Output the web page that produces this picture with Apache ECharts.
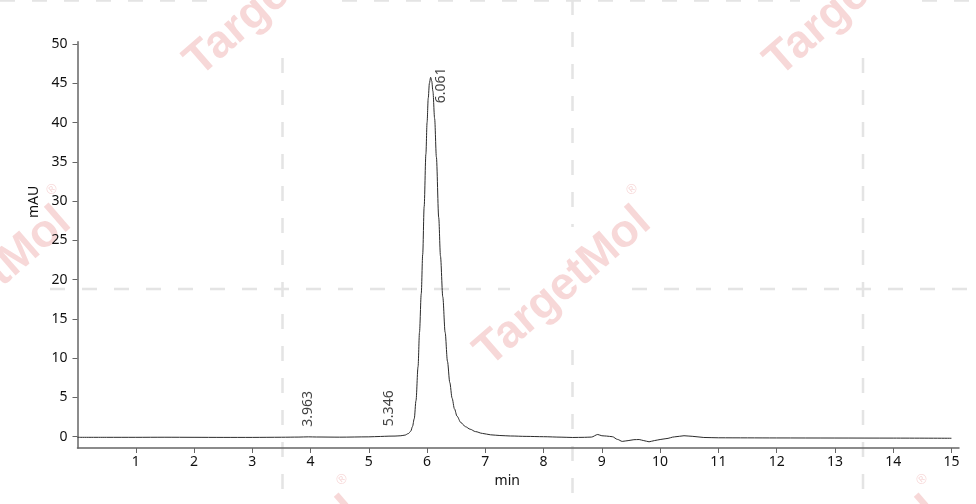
<!DOCTYPE html>
<html><head><meta charset="utf-8">
<script src="https://cdn.jsdelivr.net/npm/echarts@6/dist/echarts.min.js"></script>
<style>html,body{margin:0;padding:0;background:#fff}#c{width:976px;height:504px}</style>
</head><body><div id="c"></div>
<script>
// retention time (min)
const times = [0, 0.5, 1, 1.5, 2, 2.5, 3, 3.5, 3.8, 3.963, 4.1, 4.5, 5.0, 5.2, 5.346, 5.45, 5.55, 5.62, 5.68, 5.72,
  5.75, 5.78, 5.81, 5.845, 5.87, 5.9, 5.925, 5.95, 5.98, 6.0, 6.02, 6.04, 6.061, 6.08, 6.1, 6.13, 6.16, 6.2, 6.23,
  6.27, 6.31, 6.35, 6.39, 6.43, 6.47, 6.515, 6.58, 6.66, 6.74, 6.83, 6.95, 7.09, 7.25, 7.43, 7.7, 8.0, 8.3, 8.5,
  8.7, 8.82, 8.93, 9.0, 9.08, 9.18, 9.27, 9.35, 9.45, 9.55, 9.64, 9.72, 9.81, 9.9, 10.0, 10.1, 10.25, 10.41, 10.55,
  10.75, 11.0, 11.5, 12, 13, 14, 15];
// absorbance (mAU)
const mau = [-0.08, -0.08, -0.08, -0.07, -0.08, -0.09, -0.09, -0.07, -0.05, -0.02, -0.04, -0.06, -0.02, 0.03, 0.07,
  0.08, 0.12, 0.2, 0.4, 0.7, 1.3, 2.3, 4.6, 8.9, 13.3, 18.2, 23.2, 29.3, 36.0, 40.0, 43.1, 45.0, 45.76, 45.3, 44.0,
  40.5, 35.6, 27.9, 23.0, 17.8, 13.3, 9.6, 6.9, 4.9, 3.55, 2.6, 1.8, 1.27, 0.95, 0.65, 0.42, 0.24, 0.15, 0.09, 0.04,
  0.0, -0.06, -0.1, -0.08, -0.05, 0.28, 0.12, 0.08, 0.0, -0.35, -0.6, -0.5, -0.38, -0.36, -0.5, -0.65, -0.5, -0.36,
  -0.25, -0.02, 0.12, 0.05, -0.1, -0.14, -0.15, -0.16, -0.17, -0.18, -0.2];
// labelled peaks
const peakTimes = [3.963, 5.346, 6.061];
const peakHeights = [-0.02, 0.07, 45.76];
// axis ticks
const xTicks = [1, 2, 3, 4, 5, 6, 7, 8, 9, 10, 11, 12, 13, 14, 15];
const yTicks = [0, 5, 10, 15, 20, 25, 30, 35, 40, 45, 50];

const labelOffsets = [[10, 0], [10, 0], [-26, 10]];
const FONT = 'Noto Sans';

const lineData = times.map((t, i) => [t, mau[i]]);
const peakData = peakTimes.map((t, i) => ({
  value: [t, peakHeights[i]],
  label: { offset: labelOffsets[i] }
}));

// watermark
const wm = [];
const wmCenters = [[273, -3], [853, -3], [-17, 287], [563, 287], [1143, 287], [273, 577], [853, 577]];
const ang = 41 * Math.PI / 180;
wmCenters.forEach(c => {
  wm.push({
    type: 'group', x: c[0], y: c[1], rotation: ang, z: -10, silent: true,
    children: [
      { type: 'text', style: { text: 'TargetMol', x: 0, y: 0, align: 'center', verticalAlign: 'middle',
        font: 'bold 46px "Liberation Sans"', fill: 'rgba(214,60,60,0.2)' } },
      { type: 'text', style: { text: '®', x: 116, y: -28, align: 'center', verticalAlign: 'middle',
        font: '14px "Liberation Sans"', fill: 'rgba(214,60,60,0.2)' } }
    ]
  });
});
const segs = [
  [282.5, 58, 282.5, 504], [572.5, 0, 572.5, 227], [572.5, 350, 572.5, 504], [863, 58, 863, 504],
  [50, 289, 510, 289], [632, 289, 976, 289],
  [0, 0.5, 220, 0.5], [342, 0.5, 800, 0.5], [922, 0.5, 976, 0.5]
];
segs.forEach(s => {
  wm.push({ type: 'line', z: -10, silent: true,
    shape: { x1: s[0], y1: s[1], x2: s[2], y2: s[3] },
    style: { stroke: '#e4e4e4', lineWidth: 2.5, lineDash: [15, 17] } });
});

const chart = echarts.init(document.getElementById('c'), null, { renderer: 'canvas' });
chart.setOption({
  animation: false,
  backgroundColor: '#fff',
  graphic: wm,
  grid: { left: 77.5, right: 17, top: 41.7, bottom: 56, containLabel: false, outerBoundsMode: 'none' },
  xAxis: {
    type: 'value', min: 0, max: 15.13,
    name: 'min', nameLocation: 'middle', nameGap: 24,
    nameTextStyle: { fontFamily: FONT, fontSize: 14, color: '#111', padding: [0, 22, 0, 0] },
    axisLine: { onZero: false, lineStyle: { color: '#666', width: 1.5 } },
    axisTick: { show: true, length: 5, customValues: xTicks, lineStyle: { color: '#666', width: 1 } },
    axisLabel: { customValues: xTicks, margin: 7, fontFamily: FONT, fontSize: 14, color: '#111' },
    splitLine: { show: false }
  },
  yAxis: {
    type: 'value', min: -1.44, max: 50.3,
    name: 'mAU', nameLocation: 'middle', nameGap: 33, nameRotate: 90,
    nameTextStyle: { fontFamily: FONT, fontSize: 14, color: '#111', padding: [0, 0, 0, 86] },
    axisLine: { onZero: false, lineStyle: { color: '#666', width: 1.5 } },
    axisTick: { show: true, length: 5, customValues: yTicks, lineStyle: { color: '#666', width: 1 } },
    axisLabel: { customValues: yTicks, margin: 10, fontFamily: FONT, fontSize: 14, color: '#111' },
    splitLine: { show: false }
  },
  series: [
    {
      type: 'line', data: lineData, showSymbol: false, symbol: 'none',
      smooth: 0.3, smoothMonotone: 'x',
      lineStyle: { color: '#2a2a2a', width: 1 }, z: 3
    },
    {
      type: 'scatter', data: peakData, symbolSize: 1, itemStyle: { color: 'rgba(0,0,0,0)' },
      label: {
        show: true, position: 'inside', rotate: 90, align: 'left', verticalAlign: 'middle',
        fontFamily: FONT, fontSize: 14, color: '#111',
        formatter: p => p.value[0].toFixed(3)
      },
      z: 4
    }
  ]
});
</script>
</body></html>
